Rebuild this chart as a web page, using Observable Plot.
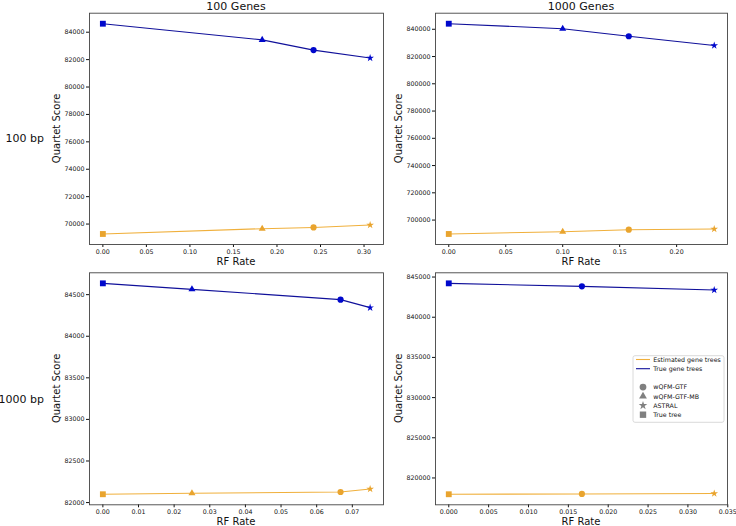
<!DOCTYPE html>
<html>
<head>
<meta charset="utf-8">
<script src="https://cdn.jsdelivr.net/npm/d3@7"></script>
<script src="https://cdn.jsdelivr.net/npm/@observablehq/plot@0.6"></script>
<style>
  html, body { margin: 0; padding: 0; background: white; }
  #chart { position: relative; width: 736px; height: 526px; background: white; font-family: "DejaVu Sans", sans-serif; overflow: hidden; }
  #chart > svg, #chart > div { position: absolute; }
</style>
</head>
<body>
<div id="chart"></div>
<script>
// ---------- data ----------
const colLabels = ["100 Genes", "1000 Genes"];
const rowLabels = ["100 bp", "1000 bp"];

const methodsFour = ["True tree", "wQFM-GTF-MB", "wQFM-GTF", "ASTRAL"];
const methodsThree = ["True tree", "wQFM-GTF", "ASTRAL"];

// 100 bp, 100 genes
const rf_bp100_g100 = [0, 0.183, 0.242, 0.307];
const trueQ_bp100_g100 = [84620, 83440, 82694, 82114];
const estQ_bp100_g100 = [69275, 69660, 69753, 69927];
const yTicks_bp100_g100 = [70000, 72000, 74000, 76000, 78000, 80000, 82000, 84000];
const xTicks_bp100_g100 = [0, 0.05, 0.10, 0.15, 0.20, 0.25, 0.30];

// 100 bp, 1000 genes
const rf_bp100_g1000 = [0, 0.100, 0.158, 0.233];
const trueQ_bp100_g1000 = [844083, 840437, 834896, 828040];
const estQ_bp100_g1000 = [689793, 691470, 692927, 693440];
const yTicks_bp100_g1000 = [700000, 720000, 740000, 760000, 780000, 800000, 820000, 840000];
const xTicks_bp100_g1000 = [0, 0.05, 0.10, 0.15, 0.20];

// 1000 bp, 100 genes
const rf_bp1000_g100 = [0, 0.025, 0.0667, 0.075];
const trueQ_bp1000_g100 = [84636, 84564, 84440, 84344];
const estQ_bp1000_g100 = [82100, 82112, 82127, 82163];
const yTicks_bp1000_g100 = [82000, 82500, 83000, 83500, 84000, 84500];
const xTicks_bp1000_g100 = [0, 0.01, 0.02, 0.03, 0.04, 0.05, 0.06, 0.07];

// 1000 bp, 1000 genes (no wQFM-GTF-MB)
const rf_bp1000_g1000 = [0, 0.0167, 0.0333];
const trueQ_bp1000_g1000 = [844216, 843843, 843383];
const estQ_bp1000_g1000 = [817973, 818010, 818060];
const yTicks_bp1000_g1000 = [820000, 825000, 830000, 835000, 840000, 845000];
const xTicks_bp1000_g1000 = [0, 0.005, 0.010, 0.015, 0.020, 0.025, 0.030, 0.035];

const symbolDomain = ["wQFM-GTF", "wQFM-GTF-MB", "ASTRAL", "True tree"];
const symbolRange = ["circle", "triangle", "star", "square"];
const seriesLabels = ["Estimated gene trees", "True gene trees"];

// ---------- styles ----------
const ORANGE_LINE = "#f0b03c";
const ORANGE_MARK = "#e9a42e";
const BLUE_LINE = "#10109a";
const BLUE_MARK = "#0008cc";
const LEGEND_GRAY = "#808080";
const markerR = {"wQFM-GTF": 3.1, "wQFM-GTF-MB": 2.6, "ASTRAL": 2.4, "True tree": 3.3};

const cols = [
  {off: 0, w: 400, ml: 89, mr: 17},
  {off: 400, w: 336, ml: 35, mr: 9}
];
const rows = [
  {off: 0, h: 262, mt: 12.7, mb: 18},
  {off: 262, h: 264, mt: 10.3, mb: 21.7}
];

const panels = [
  {row: 0, col: 0, methods: methodsFour, rf: rf_bp100_g100, tq: trueQ_bp100_g100, eq: estQ_bp100_g100, yt: yTicks_bp100_g100, xt: xTicks_bp100_g100, xf: ".2f"},
  {row: 0, col: 1, methods: methodsFour, rf: rf_bp100_g1000, tq: trueQ_bp100_g1000, eq: estQ_bp100_g1000, yt: yTicks_bp100_g1000, xt: xTicks_bp100_g1000, xf: ".2f"},
  {row: 1, col: 0, methods: methodsFour, rf: rf_bp1000_g100, tq: trueQ_bp1000_g100, eq: estQ_bp1000_g100, yt: yTicks_bp1000_g100, xt: xTicks_bp1000_g100, xf: ".2f"},
  {row: 1, col: 1, methods: methodsThree, rf: rf_bp1000_g1000, tq: trueQ_bp1000_g1000, eq: estQ_bp1000_g1000, yt: yTicks_bp1000_g1000, xt: xTicks_bp1000_g1000, xf: ".3f"}
];

function padExtent(values, frac = 0.05) {
  const [a, b] = d3.extent(values);
  const m = (b - a) * frac;
  return [a - m, b + m];
}

const chart = document.getElementById("chart");

for (const p of panels) {
  const c = cols[p.col], r = rows[p.row];
  const trueRows = p.methods.map((m, i) => ({method: m, rf: p.rf[i], q: p.tq[i]}));
  const estRows = p.methods.map((m, i) => ({method: m, rf: p.rf[i], q: p.eq[i]}));
  const dotMarks = [];
  for (const m of symbolDomain) {
    dotMarks.push(Plot.dot(estRows.filter(d => d.method === m), {x: "rf", y: "q", symbol: "method", fill: ORANGE_MARK, r: markerR[m]}));
    dotMarks.push(Plot.dot(trueRows.filter(d => d.method === m), {x: "rf", y: "q", symbol: "method", fill: BLUE_MARK, r: markerR[m]}));
  }
  const svg = Plot.plot({
    width: c.w,
    height: r.h,
    marginLeft: c.ml,
    marginRight: c.mr,
    marginTop: r.mt,
    marginBottom: r.mb,
    style: {background: "transparent", fontFamily: "DejaVu Sans, sans-serif", fontSize: "6.3px", color: "#111", overflow: "visible"},
    x: {domain: padExtent(p.rf)},
    y: {domain: padExtent([...p.tq, ...p.eq])},
    symbol: {domain: symbolDomain, range: symbolRange},
    marks: [
      Plot.axisX(p.xt, {tickFormat: d3.format(p.xf), tickSize: 3, tickPadding: 2, label: null, color: "#111", fontSize: 6.3}),
      Plot.axisY(p.yt, {tickFormat: d3.format("d"), tickSize: 3, tickPadding: 2, label: null, color: "#111", fontSize: 6.3}),
      Plot.line(estRows, {x: "rf", y: "q", stroke: ORANGE_LINE, strokeWidth: 1.1}),
      Plot.line(trueRows, {x: "rf", y: "q", stroke: BLUE_LINE, strokeWidth: 1.1}),
      ...dotMarks,
      Plot.frame({stroke: "#444", strokeWidth: 0.9})
    ]
  });
  svg.style.left = c.off + "px";
  svg.style.top = r.off + "px";
  chart.appendChild(svg);
}

// ---------- overlay text & legend ----------
const ov = d3.select(chart).append("svg")
  .attr("width", 736).attr("height", 526)
  .style("left", "0px").style("top", "0px")
  .style("pointer-events", "none")
  .attr("font-family", "DejaVu Sans, sans-serif");

const frameX = [[89, 383], [435, 727]];
const frameY = [[12.7, 244], [272.3, 504.3]];

colLabels.forEach((t, i) => {
  ov.append("text").attr("x", (frameX[i][0] + frameX[i][1]) / 2).attr("y", 9.6)
    .attr("text-anchor", "middle").attr("font-size", 11).attr("fill", "#111").text(t);
});
rowLabels.forEach((t, i) => {
  const cy = (frameY[i][0] + frameY[i][1]) / 2;
  ov.append("text").attr("x", 44).attr("y", cy + 3.9 + (i === 1 ? 11 : 10))
    .attr("text-anchor", "end").attr("font-size", 11).attr("fill", "#111").text(t);
});
for (let ri = 0; ri < 2; ri++) {
  for (let ci = 0; ci < 2; ci++) {
    const cx = (frameX[ci][0] + frameX[ci][1]) / 2;
    const cy = (frameY[ri][0] + frameY[ri][1]) / 2;
    ov.append("text").attr("x", cx).attr("y", frameY[ri][1] + 21)
      .attr("text-anchor", "middle").attr("font-size", 10).attr("fill", "#111").text("RF Rate");
    const lx = ci === 0 ? 60.3 : 402.3;
    ov.append("text").attr("transform", `translate(${lx},${cy}) rotate(-90)`)
      .attr("text-anchor", "middle").attr("font-size", 10).attr("fill", "#111").text("Quartet Score");
  }
}

// legend in bottom-right panel
const lg = ov.append("g");
lg.append("rect").attr("x", 633).attr("y", 355.7).attr("width", 91).attr("height", 66.6)
  .attr("rx", 2).attr("fill", "white").attr("fill-opacity", 0.85).attr("stroke", "#d0d0d0").attr("stroke-width", 0.8);
const rowY = i => 359.5 + i * 9.2;
const lineColors = [ORANGE_LINE, BLUE_LINE];
seriesLabels.forEach((t, i) => {
  lg.append("line").attr("x1", 636).attr("x2", 650).attr("y1", rowY(i)).attr("y2", rowY(i))
    .attr("stroke", lineColors[i]).attr("stroke-width", 1.1);
  lg.append("text").attr("x", 653.3).attr("y", rowY(i)).attr("dy", "0.35em")
    .attr("font-size", 6.3).attr("fill", "#111").text(t);
});
const d3Sym = {circle: d3.symbolCircle, triangle: d3.symbolTriangle, star: d3.symbolStar, square: d3.symbolSquare};
symbolDomain.forEach((t, i) => {
  const y = rowY(i + 3);
  const rr = markerR[t] + 0.3;
  lg.append("path").attr("transform", `translate(643,${y})`)
    .attr("d", d3.symbol(d3Sym[symbolRange[i]], Math.PI * rr * rr)())
    .attr("fill", LEGEND_GRAY);
  lg.append("text").attr("x", 653.3).attr("y", y).attr("dy", "0.35em")
    .attr("font-size", 6.3).attr("fill", "#111").text(t);
});
</script>
</body>
</html>
